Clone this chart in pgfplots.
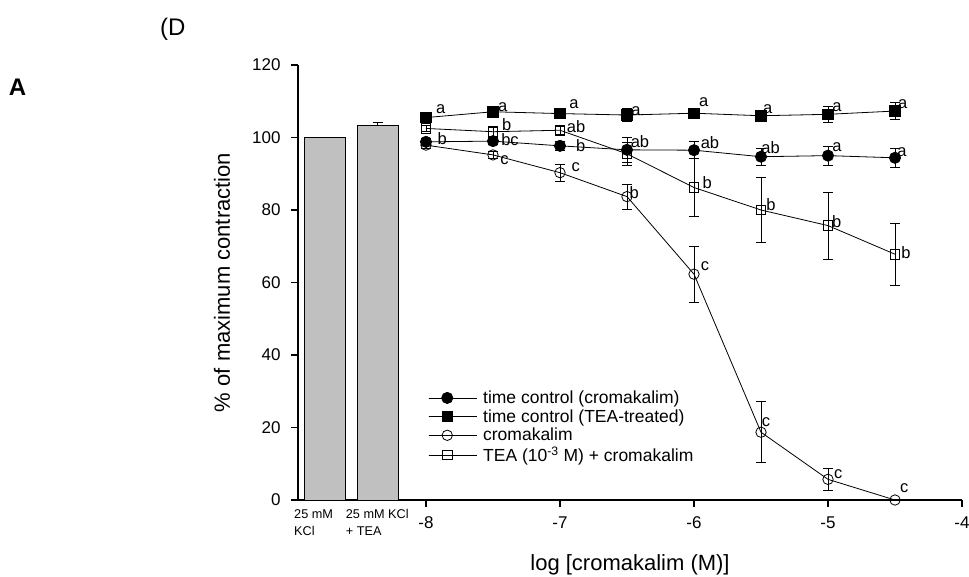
\documentclass[border=0pt]{standalone}
\usepackage{fontspec}
\setmainfont{Liberation Sans}
\usepackage{pgfplots}
\usepackage{pgfplotstable}
\pgfplotsset{compat=1.18}

% x  y  err
\pgfplotstableread{
x y e
-8 98.8 1.0
-7.5 99.0 1.0
-7 97.7 1.2
-6.5 96.6 3.4
-6 96.5 2.3
-5.5 94.7 2.4
-5 95.0 2.6
-4.5 94.4 2.6
}\tcCrom
\pgfplotstableread{
x y e
-8 105.5 1.0
-7.5 107.1 0.8
-7 106.6 1.0
-6.5 106.2 1.8
-6 106.7 0.8
-5.5 106.0 1.5
-5 106.4 2.2
-4.5 107.3 2.4
}\tcTEA
\pgfplotstableread{
x y e
-8 97.9 0.8
-7.5 95.2 1.0
-7 90.3 2.4
-6.5 83.7 3.5
-6 62.3 7.7
-5.5 18.7 8.4
-5 5.7 3.0
-4.5 0 0
}\crom
\pgfplotstableread{
x y e
-8 102.5 0.8
-7.5 101.6 1.5
-7 102.0 1.2
-6.5 95.5 3.2
-6 86.2 8.1
-5.5 80.0 8.9
-5 75.7 9.2
-4.5 67.8 8.6
}\teaCrom

\newcommand{\lab}[3]{\node[inner sep=0pt,anchor=center,font=\fontsize{16.5}{18}\selectfont] at (axis cs:#1,#2) {#3};}

\begin{document}
\begin{tikzpicture}
\path[use as bounding box] (0pt,0pt) rectangle (969pt,-576pt);
\begin{axis}[
  scale only axis, width=664pt, height=435pt,
  at={(298pt,-500pt)}, anchor=south west,
  xmin=-8.955, xmax=-4, ymin=0, ymax=120,
  axis x line*=bottom, axis y line*=left,
  axis line style={line width=1.1pt},
  xtick={-8,-7,-6,-5,-4}, xticklabels={-8,-7,-6,-5,-4},
  ytick={0,20,40,60,80,100,120}, yticklabels={0,20,40,60,80,100,120},
  tick align=outside, major tick length=7pt,
  tick style={black,line width=1.1pt},
  ticklabel style={font=\fontsize{17}{19}\selectfont},
  xticklabel style={yshift=-6pt},
  yticklabel style={xshift=-7pt},
  xlabel={log [cromakalim (M)]},
  xlabel style={at={(axis description cs:0.5,-0.149)}, anchor=center, font=\fontsize{22}{25}\selectfont},
  ylabel={\% of maximum contraction},
  ylabel style={at={(axis description cs:-0.1145,0.5)}, anchor=center, font=\fontsize{22}{25}\selectfont},
  clip=false,
  legend style={at={(rel axis cs:0.196,0.256)}, anchor=north west, draw=none, fill=none,
    font=\fontsize{17.5}{20}\selectfont, row sep=0.5pt, column sep=4pt, inner sep=0pt},
  legend cell align=left,
  every axis plot/.append style={line width=0.8pt},
  error bars/error bar style={line width=0.8pt, black},
  error bars/error mark options={rotate=90, line width=0.8pt, black, mark size=5pt},
  myleg/.style={legend image code/.code={\path (0pt,0pt) -- (48pt,0pt);\draw[mark repeat=2,mark phase=2,##1] plot coordinates {(0pt,0pt) (18.5pt,0pt) (37pt,0pt)};}},
]
% bars
\addplot[ybar, bar width=0.31, bar shift=0pt, fill={rgb,255:red,192;green,192;blue,192}, draw=black, line width=0.8pt, mark=none, forget plot]
  coordinates {(-8.755,100)};
\addplot[ybar, bar width=0.31, bar shift=0pt, fill={rgb,255:red,192;green,192;blue,192}, draw=black, line width=0.8pt, mark=none, forget plot,
  error bars/.cd, y dir=plus, y explicit]
  coordinates {(-8.36,103.3) +- (0,0.9)};

\addplot[black, mark=o, mark size=5.2pt, mark options={solid, line width=0.8pt}, forget plot,
  error bars/.cd, y dir=both, y explicit] table[x=x, y=y, y error=e] {\crom};
\addplot[black, mark=square, mark size=4.7pt, mark options={solid, line width=0.8pt}, forget plot,
  error bars/.cd, y dir=both, y explicit] table[x=x, y=y, y error=e] {\teaCrom};
\addplot[black, mark=*, mark size=5.6pt, mark options={solid, fill=black}, forget plot,
  error bars/.cd, y dir=both, y explicit] table[x=x, y=y, y error=e] {\tcCrom};
\addplot[black, mark=square*, mark size=5.2pt, mark options={solid, fill=black}, forget plot,
  error bars/.cd, y dir=both, y explicit] table[x=x, y=y, y error=e] {\tcTEA};

\addlegendimage{myleg, black, line width=0.8pt, mark=*, mark size=5.6pt, mark options={fill=black}}
\addlegendentry{time control (cromakalim)}
\addlegendimage{myleg, black, line width=0.8pt, mark=square*, mark size=5.2pt, mark options={fill=black}}
\addlegendentry{time control (TEA-treated)}
\addlegendimage{myleg, black, line width=0.8pt, mark=o, mark size=5.2pt}
\addlegendentry{cromakalim}
\addlegendimage{myleg, black, line width=0.8pt, mark=square, mark size=4.7pt}
\addlegendentry{TEA (10\textsuperscript{-3} M) + cromakalim}

% significance letters
\lab{-7.890}{107.8}{a}\lab{-7.428}{108.5}{a}\lab{-6.896}{109.2}{a}\lab{-6.433}{107.3}{a}
\lab{-5.928}{109.7}{a}\lab{-5.450}{107.8}{a}\lab{-4.933}{108.5}{a}\lab{-4.443}{109.2}{a}
\lab{-7.878}{99.6}{b}\lab{-7.373}{99.4}{bc}\lab{-6.846}{97.9}{b}\lab{-6.403}{98.9}{ab}
\lab{-5.881}{98.7}{ab}\lab{-5.428}{97.3}{ab}\lab{-4.933}{97.3}{a}\lab{-4.448}{96.1}{a}
\lab{-7.398}{103.6}{b}\lab{-6.880}{103.0}{ab}\lab{-5.901}{87.6}{b}\lab{-5.425}{81.5}{b}
\lab{-4.935}{76.8}{b}\lab{-4.418}{68.3}{b}
\lab{-7.414}{93.8}{c}\lab{-6.883}{91.8}{c}\lab{-6.446}{84.9}{b}\lab{-5.918}{64.4}{c}
\lab{-5.463}{21.4}{c}\lab{-4.923}{7.2}{c}\lab{-4.431}{3.2}{c}
\end{axis}
\node[font=\fontsize{24}{28}\selectfont\bfseries, anchor=center, inner sep=0pt] at (17.5pt,-87pt) {A};
\node[font=\fontsize{24}{28}\selectfont, anchor=base west, inner sep=0pt] at (160pt,-35pt) {(D};
\node[font=\fontsize{12.7}{15}\selectfont, anchor=base west, inner sep=0pt] at (294pt,-518pt) {25 mM};
\node[font=\fontsize{12.7}{15}\selectfont, anchor=base west, inner sep=0pt] at (294pt,-535pt) {KCl};
\node[font=\fontsize{12.7}{15}\selectfont, anchor=base west, inner sep=0pt] at (345.7pt,-518pt) {25 mM KCl};
\node[font=\fontsize{12.7}{15}\selectfont, anchor=base west, inner sep=0pt] at (345.7pt,-535pt) {+ TEA};
\end{tikzpicture}
\end{document}
